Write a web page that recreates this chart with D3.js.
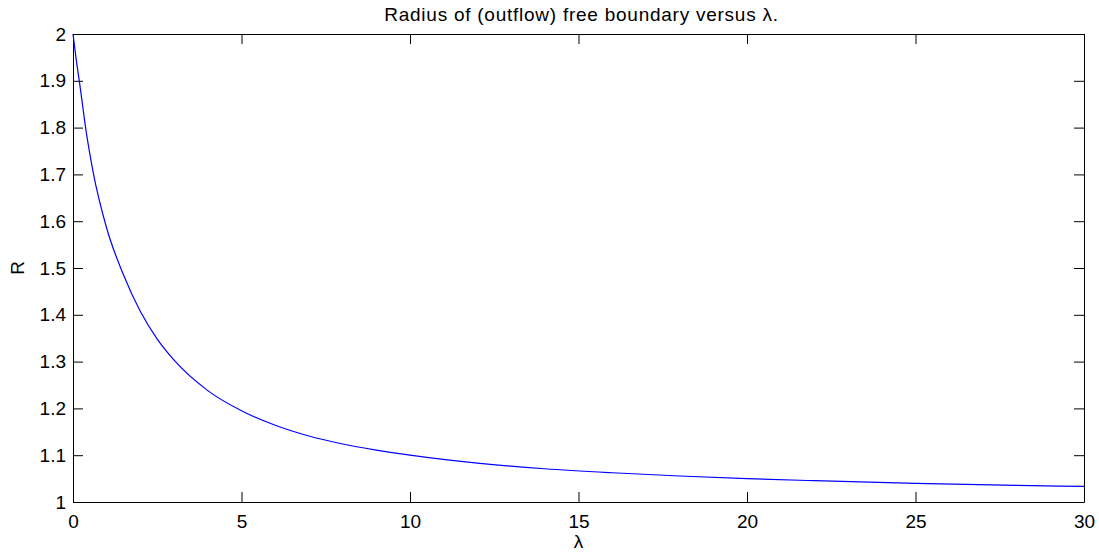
<!DOCTYPE html>
<html>
<head>
<meta charset="utf-8">
<script src="https://cdn.jsdelivr.net/npm/d3@7"></script>
<style>
  body { margin: 0; background: #fff; }
  text { font-family: "Liberation Sans", Arial, Helvetica, sans-serif; }
</style>
</head>
<body>
<div id="chart"></div>
<script>
// values
const lambda = [0, 0.1, 0.2, 0.4, 0.6, 1.0, 1.5, 2.0, 2.5, 3.0, 4.0, 5.0, 6.0, 7.0, 8.0, 9.0, 10.0,
    12, 14, 16, 18, 20, 22, 25, 28, 30];
const radius = [2.000, 1.943, 1.893, 1.787, 1.704, 1.585, 1.485, 1.407, 1.348, 1.303, 1.238, 1.195,
    1.164, 1.141, 1.124, 1.111, 1.100, 1.083, 1.071, 1.0625, 1.0556, 1.050, 1.0455, 1.040, 1.0357, 1.0333];
const xTicks = [0, 5, 10, 15, 20, 25, 30];
const yTicks = [1, 1.1, 1.2, 1.3, 1.4, 1.5, 1.6, 1.7, 1.8, 1.9, 2];
const title = "Radius of (outflow) free boundary versus \u03bb.";

const W = 1099, H = 556;
const margin = { top: 34, right: 15, bottom: 54, left: 73 },
    width = W - margin.left - margin.right,
    height = H - margin.top - margin.bottom;

const svg = d3.select("#chart")
    .append("svg")
    .attr("width", W)
    .attr("height", H)
    .append("g")
    .attr("transform", `translate(${margin.left},${margin.top})`);

const x = d3.scaleLinear().domain([0, 30]).range([0, width]);
const y = d3.scaleLinear().domain([1, 2]).range([height, 0]);

const tickLen = 10;
const fmt = d => d3.format("")(+d.toFixed(1));

// axes on all four sides, ticks pointing inward (matlab style)
function styleAxis(g) {
    g.selectAll("path").attr("stroke", "#000").attr("stroke-width", 1);
    g.selectAll("line").attr("stroke", "#000").attr("stroke-width", 1);
    g.selectAll("text").attr("fill", "#000").style("font-size", "19px");
}

svg.append("g")
    .attr("transform", `translate(0,${height})`)
    .call(d3.axisBottom(x).tickValues(xTicks).tickSizeInner(-tickLen).tickSizeOuter(0).tickPadding(13).tickFormat(fmt))
    .call(styleAxis);
svg.append("g")
    .call(d3.axisTop(x).tickValues(xTicks).tickSizeInner(-tickLen).tickSizeOuter(0).tickFormat(""))
    .call(styleAxis);
svg.append("g")
    .call(d3.axisLeft(y).tickValues(yTicks).tickSizeInner(-tickLen).tickSizeOuter(0).tickPadding(7).tickFormat(fmt))
    .call(styleAxis);
svg.append("g")
    .attr("transform", `translate(${width},0)`)
    .call(d3.axisRight(y).tickValues(yTicks).tickSizeInner(-tickLen).tickSizeOuter(0).tickFormat(""))
    .call(styleAxis);

// the curve
const line = d3.line()
    .x((d, i) => x(lambda[i]))
    .y(d => y(d))
    .curve(d3.curveMonotoneX);

svg.append("path")
    .datum(radius)
    .attr("d", line)
    .attr("fill", "none")
    .attr("stroke", "#0000ff")
    .attr("stroke-width", 1.2);

// labels
svg.append("text")
    .attr("x", width / 2 + 3)
    .attr("y", -13)
    .attr("text-anchor", "middle")
    .style("font-size", "19px")
    .style("letter-spacing", "0.75px")
    .text(title);

svg.append("text")
    .attr("x", width / 2)
    .attr("y", height + 46)
    .attr("text-anchor", "middle")
    .style("font-size", "19px")
    .text("\u03bb");

svg.append("text")
    .attr("transform", `translate(${-49},${height / 2}) rotate(-90)`)
    .attr("text-anchor", "middle")
    .style("font-size", "19px")
    .text("R");
</script>
</body>
</html>
